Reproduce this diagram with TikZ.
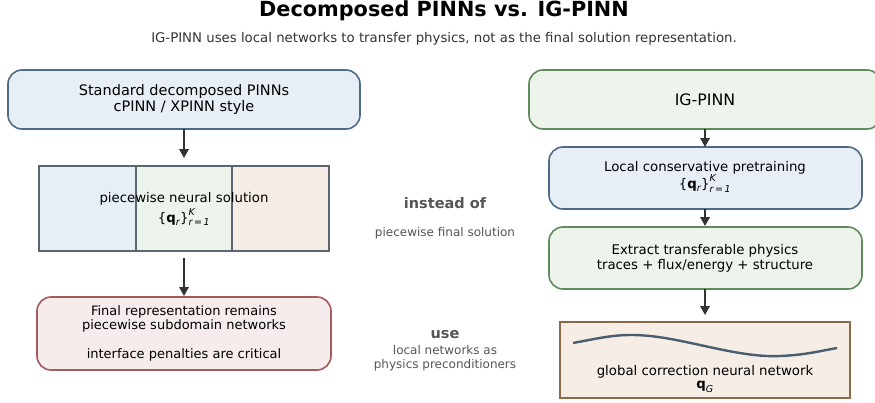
\documentclass[tikz,border=0pt]{standalone}
\usepackage{fontspec}
\setmainfont{DejaVu Sans}
\usetikzlibrary{arrows.meta}
\definecolor{bfill}{HTML}{E7EEF6}
\definecolor{bdraw}{HTML}{4E6A84}
\definecolor{gfill}{HTML}{EDF4EC}
\definecolor{gdraw}{HTML}{5F8A5C}
\definecolor{pfill}{HTML}{F5EDE6}
\definecolor{rfill}{HTML}{F7ECEC}
\definecolor{rdraw}{HTML}{A55B5B}
\definecolor{brdraw}{HTML}{8C6A48}
\definecolor{arr}{HTML}{333333}
\definecolor{gtxt}{HTML}{555555}
\definecolor{wave}{HTML}{4A5E70}
\definecolor{pwdraw}{HTML}{5A6672}
\newcommand{\qset}{\mbox{\{}\mbox{\bfseries q}_{\mbox{\fontsize{9.5}{9.5}\selectfont\itshape r}}\mbox{\}}_{\mbox{\fontsize{9.5}{9.5}\selectfont\itshape r\,=\,1}}^{\mbox{\fontsize{9.5}{9.5}\selectfont\itshape K}}}
\tikzset{
  box/.style={rounded corners=14pt, line width=1.6pt},
  bluebox/.style={box, fill=bfill, draw=bdraw},
  greenbox/.style={box, fill=gfill, draw=gdraw},
  redbox/.style={box, fill=rfill, draw=rdraw},
  flow/.style={-{Triangle[length=9pt,width=9.5pt]}, line width=1.9pt, draw=arr},
  txt/.style={align=center, font=\fontsize{13.3}{15}\selectfont},
  bigtxt/.style={align=center, font=\fontsize{14.5}{16}\selectfont},
  midbold/.style={text=gtxt, font=\fontsize{14.5}{16}\selectfont\bfseries},
  midsmall/.style={text=gtxt, align=center, font=\fontsize{12}{14}\selectfont}
}
\begin{document}
\begin{tikzpicture}[x=1pt,y=-1pt]
\useasboundingbox (0,0) rectangle (875,402);
\begin{scope}
\clip (0,0) rectangle (875,402);
% title
\node[anchor=base, inner sep=0pt, font=\fontsize{20.8}{23}\selectfont\bfseries] (title) at (444,16.5) {Decomposed PINNs vs. IG-PINN};
\node[anchor=base, inner sep=0pt, text=black!80, font=\fontsize{13.3}{15}\selectfont] (sub) at (444,42) {IG-PINN uses local networks to transfer physics, not as the final solution representation.};
% left column
\draw[bluebox] (8,70) rectangle (360,129);
\node[bigtxt] (A) at (184,99.5) {Standard decomposed PINNs\\cPINN / XPINN style};
\coordinate (Abot) at (184,129);
% piecewise
\fill[bfill] (39,166) rectangle (136,251);
\fill[gfill] (136,166) rectangle (232,251);
\fill[pfill] (232,166) rectangle (329,251);
\draw[pwdraw, line width=1.2pt] (136,166) -- (136,251) (232,166) -- (232,251);
\draw[pwdraw, line width=1.8pt] (39,166) rectangle (329,251);
\node[txt] (B) at (184,209) {piecewise neural solution\\[2pt]$\qset$};
\coordinate (Btop) at (184,158);
\coordinate (Bbot) at (184,258);
\draw[redbox] (37,297) rectangle (331,370);
\node[txt, font=\fontsize{13}{14.5}\selectfont] (C) at (184,333) {Final representation remains\\piecewise subdomain networks\\[14pt]interface penalties are critical};
\coordinate (Ctop) at (184,296);
\draw[flow] (Abot) -- (Btop);
\draw[flow] (Bbot) -- (Ctop);
% middle
\node[midbold] (inst) at (445,203) {instead of};
\node[midsmall] (pfs) at (445,233) {piecewise final solution};
\node[midbold] (use) at (445,335) {use};
\node[midsmall] (lnp) at (445,358) {local networks as\\physics preconditioners};
% right column
\draw[greenbox] (529,70) rectangle (881,129);
\node[txt, font=\fontsize{15.8}{17}\selectfont] (D) at (705,99.5) {IG-PINN};
\draw[bluebox] (549,147) rectangle (862,209);
\node[txt] (E) at (705,177) {Local conservative pretraining\\[-1pt]$\qset$};
\draw[greenbox] (549,227) rectangle (862,289);
\node[txt] (F) at (705,258) {Extract transferable physics\\traces + flux/energy + structure};
\draw[fill=pfill, draw=brdraw, line width=1.6pt] (560,322) rectangle (850,398);
\node[txt] (G) at (705,379) {global correction neural network\\[-2pt]$\mbox{\bfseries q}_{\mbox{\fontsize{9.5}{9.5}\selectfont\itshape G}}$};
\draw[wave, line width=2.4pt] (573,343) .. controls (605,337) and (620,333) .. (650,336)
  .. controls (690,340) and (740,358) .. (780,356) .. controls (805,355) and (820,351) .. (837,348);
\coordinate (Dbot) at (705,129);
\coordinate (Etop) at (705,147);
\coordinate (Ebot) at (705,209);
\coordinate (Ftop) at (705,226);
\coordinate (Fbot) at (705,289);
\coordinate (Gtop) at (705,315);
\draw[flow] (Dbot) -- (Etop);
\draw[flow] (Ebot) -- (Ftop);
\draw[flow] (Fbot) -- (Gtop);
\end{scope}
\end{tikzpicture}
\end{document}
